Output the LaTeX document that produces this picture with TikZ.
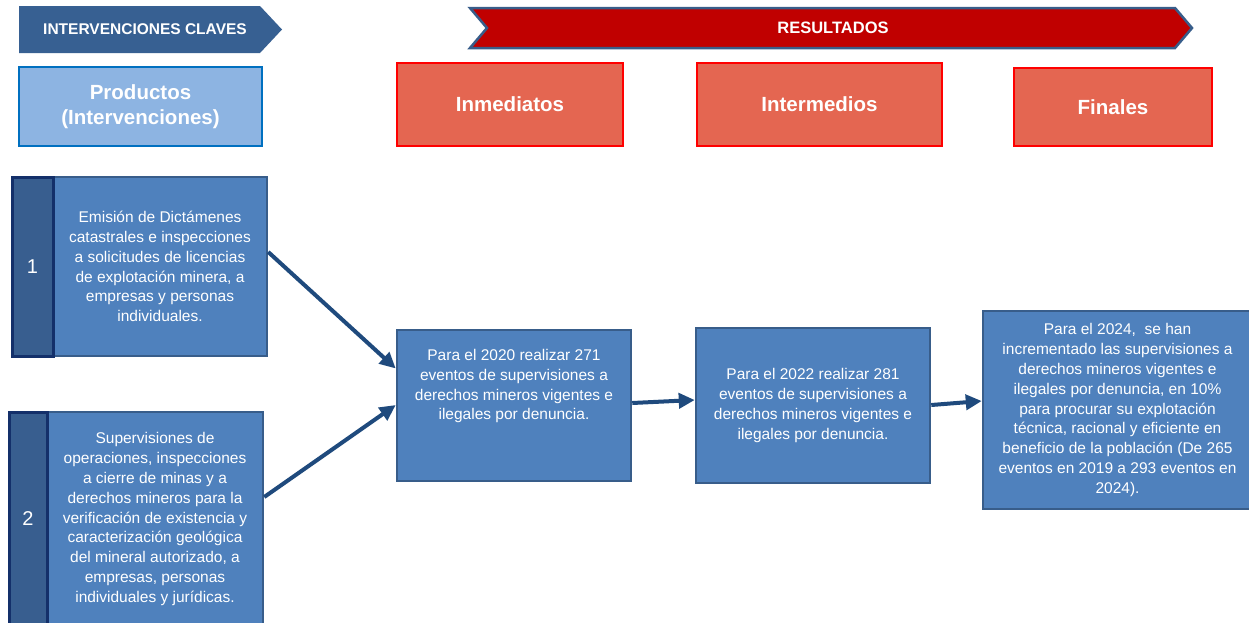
\documentclass[tikz,border=0pt]{standalone}
\usepackage{fontspec}
\setmainfont{Liberation Sans}
\usetikzlibrary{arrows.meta}
\definecolor{headblue}{HTML}{376092}
\definecolor{boxblue}{HTML}{4F81BD}
\definecolor{edgeblue}{HTML}{385D8A}
\definecolor{stripblue}{HTML}{385E8F}
\definecolor{stripedge}{HTML}{14306A}
\definecolor{lightblue}{HTML}{8DB4E2}
\definecolor{prodedge}{HTML}{0070C0}
\definecolor{coral}{HTML}{E46651}
\definecolor{resred}{HTML}{C00000}
\definecolor{arrowblue}{HTML}{1F4A7D}
\begin{document}
\begin{tikzpicture}[x=1pt,y=-1pt,
	cell/.style={draw=edgeblue,fill=boxblue,line width=2.5pt,text=white,align=center,inner sep=0pt,font=\fontsize{15.5}{19.8}\selectfont},
	strip/.style={draw=stripedge,fill=stripblue,line width=3pt,text=white,inner sep=0pt,font=\fontsize{20}{24}\selectfont},
	title/.style={draw=red,fill=coral,line width=2.5pt,text=white,inner sep=0pt,font=\fontsize{20.5}{25}\bfseries\selectfont},
	flow/.style={draw=arrowblue,line width=4pt,-{Triangle[length=16pt,width=15pt]}}]
			\clip (0,0) rectangle (1249,622);
			\fill[white] (0,0) rectangle (1249,622);
			% headers
			\fill[headblue] (19,6) -- (260,6) -- (282,29.5) -- (260,53) -- (19,53) -- cycle;
			\node[text=white,font=\fontsize{15.5}{18}\bfseries\selectfont] (hdr) at (145,29.5) {INTERVENCIONES CLAVES};
			\draw[fill=resred,draw=edgeblue,line width=2.5pt] (470,8) -- (1175,8) -- (1192,28) -- (1175,48) -- (470,48) -- (487,28) -- cycle;
			\node[text=white,font=\fontsize{16.5}{18}\bfseries\selectfont] (res) at (833,28) {RESULTADOS};
			\node[title,draw=prodedge,fill=lightblue,minimum width=243,minimum height=79,align=center] (prod) at (140.5,106.5) {Productos\\(Intervenciones)};
			\node[title,minimum width=226,minimum height=83] (imm) at (510,104.5) {Inmediatos};
			\node[title,minimum width=245,minimum height=83] (intm) at (819.5,104.5) {Intermedios};
			\node[title,minimum width=198,minimum height=78] (fin) at (1113,107) {Finales};
			% products
			\node[cell,minimum width=214,minimum height=179] (p1) at (160,266.5) {Emisión de Dictámenes\\catastrales e inspecciones\\a solicitudes de licencias\\de explotación minera, a\\empresas y personas\\individuales.};
			\node[strip,minimum width=41,minimum height=179] (n1) at (32.5,266.5) {1};
			\node[cell,minimum width=216,minimum height=214] (p2) at (155,519) {Supervisiones de\\operaciones, inspecciones\\a cierre de minas y a\\derechos mineros para la\\verificación de existencia y\\caracterización geológica\\del mineral autorizado, a\\empresas, personas\\individuales y jurídicas.};
			\node[strip,minimum width=38,minimum height=214] (n2) at (28,519) {2};
			% results
			\node[cell,minimum width=234,minimum height=151] (ra) at (514,405.5) {Para el 2020 realizar 271\\eventos de supervisiones a\\derechos mineros vigentes e\\ilegales por denuncia.\\[22pt]};
			\node[cell,minimum width=234,minimum height=155] (rb) at (813,405.5) {Para el 2022 realizar 281\\eventos de supervisiones a\\derechos mineros vigentes e\\ilegales por denuncia.};
			\node[cell,minimum width=269,minimum height=198] (rc) at (1117.5,410) {Para el 2024,\ \ se han\\incrementado las supervisiones a\\derechos mineros vigentes e\\ilegales por denuncia, en 10\%\\para procurar su explotación\\técnica, racional y eficiente en\\beneficio de la población (De 265\\eventos en 2019 a 293 eventos en\\2024).};
			% arrows
			\draw[flow] ([yshift=14.5pt]p1.east) to ([yshift=37pt]ra.west);
			\draw[flow] ([yshift=22pt]p2.east) to ([yshift=0.5pt]ra.west);
			\draw[flow] ([yshift=2.5pt]ra.east) to ([yshift=5.5pt]rb.west);
			\draw[flow] ([yshift=0.5pt]rb.east) to ([yshift=9pt]rc.west);
		\end{tikzpicture}
\end{document}
